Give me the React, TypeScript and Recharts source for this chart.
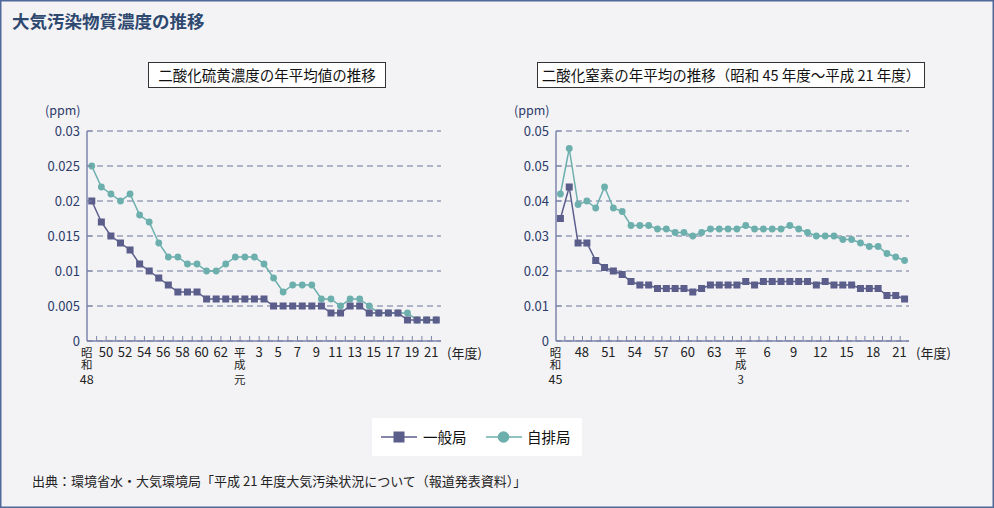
import React from 'react'
import { LineChart, Line, XAxis, YAxis, CartesianGrid } from 'recharts'

const FONT = '"Noto Sans CJK JP", "Noto Sans", sans-serif'
const NAVY = '#5b5d8b'
const TEAL = '#6cafad'
const AXIS = '#7c85aa'
const GRID = '#6c7597'
const LABEL = '#2d3b69'

// 二酸化硫黄 (昭和48〜平成21)
const so2Years = [
  '昭和48', '昭和49', '昭和50', '昭和51', '昭和52', '昭和53', '昭和54', '昭和55', '昭和56', '昭和57',
  '昭和58', '昭和59', '昭和60', '昭和61', '昭和62', '昭和63', '平成元', '平成2', '平成3', '平成4',
  '平成5', '平成6', '平成7', '平成8', '平成9', '平成10', '平成11', '平成12', '平成13', '平成14',
  '平成15', '平成16', '平成17', '平成18', '平成19', '平成20', '平成21',
]
// "era|number" for the stacked labels
const so2Labels = [
  '昭和|48', '', '50', '', '52', '', '54', '', '56', '',
  '58', '', '60', '', '62', '', '平成|元', '', '3', '',
  '5', '', '7', '', '9', '', '11', '', '13', '',
  '15', '', '17', '', '19', '', '21',
]
const so2Ippan = [
  0.020, 0.017, 0.015, 0.014, 0.013, 0.011, 0.010, 0.009, 0.008, 0.007,
  0.007, 0.007, 0.006, 0.006, 0.006, 0.006, 0.006, 0.006, 0.006, 0.005,
  0.005, 0.005, 0.005, 0.005, 0.005, 0.004, 0.004, 0.005, 0.005, 0.004,
  0.004, 0.004, 0.004, 0.003, 0.003, 0.003, 0.003,
]
const so2Jihai = [
  0.025, 0.022, 0.021, 0.020, 0.021, 0.018, 0.017, 0.014, 0.012, 0.012,
  0.011, 0.011, 0.010, 0.010, 0.011, 0.012, 0.012, 0.012, 0.011, 0.009,
  0.007, 0.008, 0.008, 0.008, 0.006, 0.006, 0.005, 0.006, 0.006, 0.005,
  0.004, 0.004, 0.004, 0.004, 0.003, 0.003, 0.003,
]
const so2Ticks = [0, 0.005, 0.01, 0.015, 0.02, 0.025, 0.03]
const so2TickLabels = ['0', '0.005', '0.01', '0.015', '0.02', '0.025', '0.03']

// 二酸化窒素 (昭和45〜平成21)
const no2Years = [
  '昭和45', '昭和46', '昭和47', '昭和48', '昭和49', '昭和50', '昭和51', '昭和52', '昭和53', '昭和54',
  '昭和55', '昭和56', '昭和57', '昭和58', '昭和59', '昭和60', '昭和61', '昭和62', '昭和63', '平成元',
  '平成2', '平成3', '平成4', '平成5', '平成6', '平成7', '平成8', '平成9', '平成10', '平成11',
  '平成12', '平成13', '平成14', '平成15', '平成16', '平成17', '平成18', '平成19', '平成20', '平成21',
]
const no2Labels = [
  '昭和|45', '', '', '48', '', '', '51', '', '', '54',
  '', '', '57', '', '', '60', '', '', '63', '',
  '', '平成|3', '', '', '6', '', '', '9', '', '',
  '12', '', '', '15', '', '', '18', '', '', '21',
]
const no2Ippan = [
  0.035, 0.044, 0.028, 0.028, 0.023, 0.021, 0.020, 0.019, 0.017, 0.016,
  0.016, 0.015, 0.015, 0.015, 0.015, 0.014, 0.015, 0.016, 0.016, 0.016,
  0.016, 0.017, 0.016, 0.017, 0.017, 0.017, 0.017, 0.017, 0.017, 0.016,
  0.017, 0.016, 0.016, 0.016, 0.015, 0.015, 0.015, 0.013, 0.013, 0.012,
]
const no2Jihai = [
  0.042, 0.055, 0.039, 0.040, 0.038, 0.044, 0.038, 0.037, 0.033, 0.033,
  0.033, 0.032, 0.032, 0.031, 0.031, 0.030, 0.031, 0.032, 0.032, 0.032,
  0.032, 0.033, 0.032, 0.032, 0.032, 0.032, 0.033, 0.032, 0.031, 0.030,
  0.030, 0.030, 0.029, 0.029, 0.028, 0.027, 0.027, 0.025, 0.024, 0.023,
]
const no2Ticks = [0, 0.01, 0.02, 0.03, 0.04, 0.05, 0.06]
const no2TickLabels = ['0', '0.01', '0.02', '0.03', '0.04', '0.05', '0.05']

const so2Data = so2Years.map((year, i) => ({ year, ippan: so2Ippan[i], jihai: so2Jihai[i] }))
const no2Data = no2Years.map((year, i) => ({ year, ippan: no2Ippan[i], jihai: no2Jihai[i] }))

function SquareDot(props: any) {
  const { cx, cy } = props
  if (cx == null || cy == null) return null
  return <rect x={cx - 3.5} y={cy - 3.5} width={7} height={7} fill={NAVY} />
}

function XTick(props: any) {
  const { x, y, payload, years, labels, step } = props
  const i = years.indexOf(payload.value)
  const label: string = labels[i] || ''
  const parts = label.split('|')
  const tx = x - 5
  return (
    <g>
      {i < years.length - 1 && (
        <line x1={x + step / 2} x2={x + step / 2} y1={y} y2={y - 5} stroke={AXIS} strokeWidth={1} />
      )}
      {parts.length === 1 && label && (
        <text x={tx} y={y + 16} textAnchor="middle" fontSize={13} fontFamily={FONT} fill="#222">{label}</text>
      )}
      {parts.length === 2 && (
        <g>
          <text x={tx} y={y + 6} fontSize={11.5} fontFamily={FONT} fill="#222"
            style={{ writingMode: 'vertical-rl' }}>{parts[0]}</text>
          <text x={tx} y={y + 42.5} textAnchor="middle" fontSize={parts[1].length > 1 ? 12.5 : 11.5}
            fontFamily={FONT} fill="#222">{parts[1]}</text>
        </g>
      )}
    </g>
  )
}

function YTick(props: any) {
  const { x, y, payload, ticks, labels } = props
  const i = ticks.indexOf(payload.value)
  return (
    <g>
      <line x1={x} x2={x + 5} y1={y} y2={y} stroke={AXIS} strokeWidth={1} />
      <text x={x - 7} y={y + 4.5} textAnchor="end" fontSize={13} fontFamily={FONT} fill={LABEL}>
        {labels[i]}
      </text>
    </g>
  )
}

function Panel({ data, years, labels, ticks, tickLabels, left, width }: any) {
  const plotW = width - 87 - 5
  const step = plotW / years.length
  const domain = [ticks[0], ticks[ticks.length - 1]]
  return (
    <div style={{ position: 'absolute', left, top: 100 }}>
      <LineChart width={width} height={291} data={data} margin={{ top: 31, right: 5, bottom: 0, left: 0 }}>
        <CartesianGrid vertical={false} stroke={GRID} strokeDasharray="6 4" />
        <XAxis dataKey="year" interval={0} height={50} tickSize={0} tickMargin={0}
          padding={{ left: step / 2, right: step / 2 }}
          axisLine={{ stroke: AXIS, strokeWidth: 1.5 }} tickLine={false}
          tick={<XTick years={years} labels={labels} step={step} />} />
        <XAxis xAxisId="top" orientation="top" dataKey="year" height={0} tick={false} tickLine={false}
          axisLine={{ stroke: AXIS, strokeWidth: 1.5 }} />
        <YAxis domain={domain} ticks={ticks} width={87} tickSize={0} tickMargin={0} interval={0}
          axisLine={{ stroke: AXIS, strokeWidth: 1.5 }} tickLine={false}
          tick={<YTick ticks={ticks} labels={tickLabels} />} />
        <YAxis yAxisId="right" orientation="right" domain={domain} width={0} tick={false} tickLine={false}
          axisLine={{ stroke: AXIS, strokeWidth: 1.5 }} />
        <Line dataKey="jihai" stroke={TEAL} strokeWidth={1.5}
          dot={{ r: 3.4, fill: TEAL, stroke: TEAL, strokeWidth: 0 }} isAnimationActive={false} />
        <Line dataKey="ippan" stroke={NAVY} strokeWidth={1.5} dot={<SquareDot />} isAnimationActive={false} />
      </LineChart>
    </div>
  )
}

const abs = (s: React.CSSProperties): React.CSSProperties => ({ position: 'absolute', whiteSpace: 'nowrap', ...s })

export default function App() {
  return (
    <div style={{
      position: 'absolute', left: 0, top: 0, width: 994, height: 508, background: '#f3f3f6',
      boxShadow: 'inset 0 0 0 1.5px #50699a', fontFamily: FONT, overflow: 'hidden',
    }}>
      <div style={abs({ left: 12, top: 11, fontSize: 17.5, lineHeight: '20px', fontWeight: 700, color: '#2e4870' })}>
        大気汚染物質濃度の推移
      </div>

      <div style={abs({
        left: 148, top: 62, width: 238, height: 26, boxSizing: 'border-box', border: '1px solid #333',
        background: '#fff', textAlign: 'center', fontSize: 14.5, lineHeight: '24px', color: '#111',
      })}>二酸化硫黄濃度の年平均値の推移</div>
      <div style={abs({
        left: 537, top: 62, width: 388, height: 26, boxSizing: 'border-box', border: '1px solid #333',
        background: '#fff', textAlign: 'center', fontSize: 14.5, lineHeight: '24px', color: '#111',
      })}>二酸化窒素の年平均の推移（昭和 45 年度〜平成 21 年度）</div>

      <div style={abs({ left: 45, top: 103, fontSize: 12.5, lineHeight: '14px', color: LABEL })}>(ppm)</div>
      <div style={abs({ left: 514, top: 103, fontSize: 12.5, lineHeight: '14px', color: LABEL })}>(ppm)</div>

      <Panel data={so2Data} years={so2Years} labels={so2Labels} ticks={so2Ticks} tickLabels={so2TickLabels}
        left={0} width={446} />
      <Panel data={no2Data} years={no2Years} labels={no2Labels} ticks={no2Ticks} tickLabels={no2TickLabels}
        left={469} width={445} />

      <div style={abs({ left: 447, top: 346, fontSize: 13, lineHeight: '14px', color: '#222' })}>(年度)</div>
      <div style={abs({ left: 916, top: 346, fontSize: 13, lineHeight: '14px', color: '#222' })}>(年度)</div>

      <div style={abs({ left: 372, top: 418, width: 210, height: 38, background: '#fff' })} />
      <svg style={abs({ left: 380, top: 429 })} width={38} height={16}>
        <line x1={1} x2={37} y1={8} y2={8} stroke={NAVY} strokeWidth={1.5} />
        <rect x={13.5} y={2.5} width={11} height={11} fill={NAVY} />
      </svg>
      <div style={abs({ left: 423, top: 428, fontSize: 14.5, lineHeight: '18px', color: '#111' })}>一般局</div>
      <svg style={abs({ left: 485, top: 429 })} width={38} height={16}>
        <line x1={1} x2={37} y1={8} y2={8} stroke={TEAL} strokeWidth={1.5} />
        <circle cx={18.5} cy={8} r={5.8} fill={TEAL} />
      </svg>
      <div style={abs({ left: 527, top: 428, fontSize: 14.5, lineHeight: '18px', color: '#111' })}>自排局</div>

      <div style={abs({ left: 32, top: 473, fontSize: 13, lineHeight: '16px', color: '#222' })}>
        出典：環境省水・大気環境局「平成 21 年度大気汚染状況について（報道発表資料）」
      </div>
    </div>
  )
}
